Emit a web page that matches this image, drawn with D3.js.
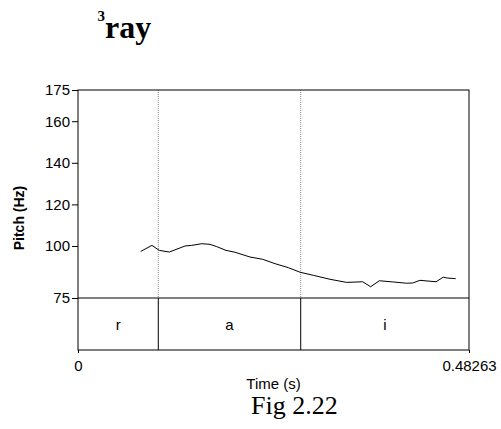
<!DOCTYPE html>
<html>
<head>
<meta charset="utf-8">
<script src="https://cdn.jsdelivr.net/npm/d3@7"></script>
<style>
  html, body { margin: 0; padding: 0; background: #fff; }
  svg { display: block; }
</style>
</head>
<body>
<svg id="chart" width="501" height="429"></svg>
<script>
// Pitch track (time in s, F0 in Hz)
const times = [0.0774, 0.0913, 0.1003, 0.1127, 0.1321, 0.1403, 0.1527, 0.1629, 0.1712, 0.1827,
               0.1938, 0.2123, 0.2280, 0.2432, 0.2596, 0.2740, 0.2904, 0.3110, 0.3316, 0.3514,
               0.3613, 0.3719, 0.3892, 0.4057, 0.4131, 0.4221, 0.4419, 0.4509, 0.4558, 0.4662];
const pitch = [97.4, 100.3, 97.9, 97.1, 100.0, 100.3, 101.1, 100.8, 99.7, 97.9,
               97.0, 94.7, 93.6, 91.5, 89.6, 87.4, 85.9, 84.0, 82.5, 82.8,
               80.4, 83.3, 82.7, 82.1, 82.2, 83.5, 82.8, 85.0, 84.6, 84.3];

// Segment tier: interval boundaries and labels
const boundaries = [0.0991, 0.2749];
const segments = ["r", "a", "i"];

// Axis ticks
const yTicks = [75, 100, 120, 140, 160, 175];
const xTicks = [0, 0.48263];
const xTickLabels = ["0", "0.48263"];

const svg = d3.select("#chart");
const sans = "'Liberation Sans', Arial, sans-serif";
const serif = "'Liberation Serif', 'Times New Roman', serif";

const plotLeft = 78, plotRight = 469, plotTop = 90, pitchBottom = 298, tierBottom = 350;
const tMax = 0.48263;

const x = d3.scaleLinear().domain([0, tMax]).range([plotLeft, plotRight]);
const y = d3.scaleLinear().domain([75, 175]).range([pitchBottom, plotTop]);

// Title with superscript tone number
svg.append("text")
  .attr("x", 97.5).attr("y", 21)
  .attr("font-family", serif).attr("font-weight", "bold").attr("font-size", 15)
  .text("3");
svg.append("text")
  .attr("x", 105).attr("y", 37.5)
  .attr("font-family", serif).attr("font-weight", "bold").attr("font-size", 32)
  .text("ray");

// Boundary lines: dotted over the pitch area, solid across the tier
boundaries.forEach(b => {
  svg.append("line")
    .attr("x1", x(b)).attr("x2", x(b))
    .attr("y1", plotTop).attr("y2", pitchBottom)
    .attr("stroke", "#888").attr("stroke-width", 1)
    .attr("stroke-dasharray", "1,1");
  svg.append("line")
    .attr("x1", x(b)).attr("x2", x(b))
    .attr("y1", pitchBottom).attr("y2", tierBottom)
    .attr("stroke", "#000").attr("stroke-width", 1);
});

// Outer frame and tier separator
svg.append("rect")
  .attr("x", plotLeft).attr("y", plotTop)
  .attr("width", plotRight - plotLeft).attr("height", tierBottom - plotTop)
  .attr("fill", "none").attr("stroke", "#000").attr("stroke-width", 1);
svg.append("line")
  .attr("x1", plotLeft).attr("x2", plotRight)
  .attr("y1", pitchBottom).attr("y2", pitchBottom)
  .attr("stroke", "#000").attr("stroke-width", 1);

// Pitch contour
const line = d3.line().x((d, i) => x(times[i])).y(d => y(d));
svg.append("path")
  .datum(pitch)
  .attr("d", line)
  .attr("fill", "none").attr("stroke", "#000").attr("stroke-width", 1);

// Y axis
const yAxis = d3.axisLeft(y).tickValues(yTicks).tickSize(6).tickPadding(2)
  .tickFormat(d3.format("d"));
const gy = svg.append("g").attr("transform", `translate(${plotLeft},0)`).call(yAxis);
gy.select(".domain").remove();
gy.selectAll("text").attr("font-family", sans).attr("font-size", 15).attr("fill", "#000");
gy.selectAll("line").attr("stroke", "#000");

svg.append("text")
  .attr("transform", "translate(24,218) rotate(-90)")
  .attr("text-anchor", "middle")
  .attr("font-family", sans).attr("font-size", 14).attr("font-weight", "bold")
  .text("Pitch (Hz)");

// X axis
const xAxis = d3.axisBottom(x).tickValues(xTicks).tickSize(3).tickPadding(7)
  .tickFormat((d, i) => xTickLabels[i]);
const gx = svg.append("g").attr("transform", `translate(0,${tierBottom})`).call(xAxis);
gx.select(".domain").remove();
gx.selectAll("text").attr("font-family", sans).attr("font-size", 15).attr("fill", "#000");
gx.selectAll("line").attr("stroke", "#000");

svg.append("text")
  .attr("x", (plotLeft + plotRight) / 2).attr("y", 389)
  .attr("text-anchor", "middle")
  .attr("font-family", sans).attr("font-size", 15)
  .text("Time (s)");

// Segment labels, centred in their intervals
const edges = [0, ...boundaries, tMax];
segments.forEach((s, i) => {
  svg.append("text")
    .attr("x", x((edges[i] + edges[i + 1]) / 2))
    .attr("y", 330)
    .attr("text-anchor", "middle")
    .attr("font-family", sans).attr("font-size", 15)
    .text(s);
});

// Caption
svg.append("text")
  .attr("x", 251).attr("y", 414)
  .attr("font-family", serif).attr("font-size", 26)
  .text("Fig 2.22");
</script>
</body>
</html>
